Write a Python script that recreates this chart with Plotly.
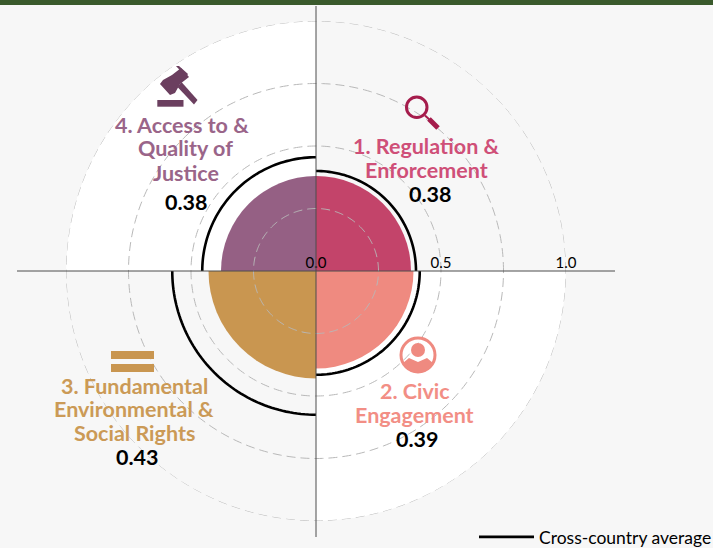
"""Governance dimensions radial chart: one quadrant per dimension."""
import numpy as np
import plotly.graph_objects as go

W, H = 713, 548
CX, CY, R1 = 316, 271, 250

DIMENSIONS = ["Regulation", "Access", "Rights", "Civic"]
THETA = [45, 135, 225, 315]
SCORES = [0.38, 0.38, 0.43, 0.39]
AVERAGES = [0.40, 0.455, 0.575, 0.415]
COLORS = ["#c3446a", "#956084", "#c99650", "#ef8a80"]
WHITE_QUADRANTS = [135, 315]
WHITE_R = [1, 1]
GRID_RINGS = [0.25, 0.5, 0.75, 1.0]
TICK_VALS = [0, 0.5, 1]
TICK_TEXT = ["0.0", "0.5", "1.0"]

LABELS = [
    ("1. Regulation &", 427, 146, "#cf4f78"),
    ("Enforcement", 427, 170, "#cf4f78"),
    ("4. Access to &", 182, 125, "#9a6589"),
    ("Quality of", 185, 148, "#9a6589"),
    ("Justice", 186, 173, "#9a6589"),
    ("3. Fundamental", 134, 386, "#cb9a56"),
    ("Environmental &", 134, 409, "#cb9a56"),
    ("Social Rights", 134, 433, "#cb9a56"),
    ("2. Civic", 415, 391, "#f28e85"),
    ("Engagement", 415, 415, "#f28e85"),
]
VALUE_LABELS = [("0.38", 430, 194), ("0.38", 186, 202), ("0.43", 137, 457), ("0.39", 417, 439)]


def px(x):
    return x / W


def py(y):
    return 1 - y / H


def poly(points):
    return "M" + " L".join(f"{px(x):.5f},{py(y):.5f}" for x, y in points) + " Z"


def pic_shape(kind, x0, y0, x1, y1, color, fill=True, width=0):
    return dict(
        type=kind, xref="paper", yref="paper",
        x0=px(x0), y0=py(y0), x1=px(x1), y1=py(y1),
        fillcolor=color if fill else "rgba(0,0,0,0)",
        line=dict(color=color, width=width), layer="above",
    )


def path_shape(points, color):
    return dict(type="path", xref="paper", yref="paper", path=poly(points),
                fillcolor=color, line=dict(width=0), layer="above")


fig = go.Figure()
fig.add_trace(go.Barpolar(r=WHITE_R, theta=WHITE_QUADRANTS, width=90, marker=dict(color="white", line=dict(width=0)),
                          showlegend=False, hoverinfo="skip"))
fig.add_trace(go.Barpolar(r=SCORES, theta=THETA, width=90, marker=dict(color=COLORS, line=dict(width=0)),
                          text=DIMENSIONS, showlegend=False))

ring_theta = np.linspace(0, 360, 361)
for ring in GRID_RINGS:
    fig.add_trace(go.Scatterpolar(r=[ring] * len(ring_theta), theta=ring_theta, mode="lines",
                                  line=dict(color="#b8b8b8", width=1, dash="9px,5px"),
                                  showlegend=False, hoverinfo="skip"))

# average arcs, one per quadrant
for i, (t, avg) in enumerate(zip(THETA, AVERAGES)):
    arc_theta = np.linspace(t - 45, t + 45, 61)
    fig.add_trace(go.Scatterpolar(r=[avg] * len(arc_theta), theta=arc_theta, mode="lines",
                                  line=dict(color="black", width=2.6),
                                  name="Cross-country average", showlegend=i == 0))

GAVEL = "#6b3f5f"
PERSON = "#ef8a80"
shapes = [
    pic_shape("rect", 0, 0, W, 5, "#3a5a2c"),
    # axes
    pic_shape("line", 17, CY, 615, CY, "#4d4d4d", width=1),
    pic_shape("line", CX, 6, CX, 537, "#4d4d4d", width=1),
    # magnifier
    pic_shape("circle", 406.5, 97, 427, 117.5, "#a51c4c", fill=False, width=3),
    pic_shape("line", 425, 115.5, 431, 121, "#a51c4c", width=2),
    pic_shape("line", 429, 119, 438, 128, "#a51c4c", width=5),
    # equals sign
    pic_shape("rect", 111, 351, 154, 359, "#c99650"),
    pic_shape("rect", 111, 364, 154, 372, "#c99650"),
    # gavel: head with end caps, handle, block
    path_shape([(172, 75), (181, 68), (189, 77), (180, 84), (175, 93), (170, 95), (160, 84), (163, 80)], GAVEL),
    path_shape([(176, 66), (179, 66), (188, 74), (186, 77)], GAVEL),
    path_shape([(181.5, 82), (197.5, 100), (194, 104.5), (177.5, 87)], GAVEL),
    pic_shape("rect", 157.3, 100, 183.5, 106.7, GAVEL),
    # person badge
    pic_shape("circle", 401, 338, 435, 372, PERSON, fill=False, width=3),
    pic_shape("circle", 411, 343, 425, 357, PERSON),
    path_shape([(403, 363), (409, 358), (418, 362), (427, 358), (433, 363), (429, 369), (424, 372),
                (418, 373), (412, 372), (407, 369)], PERSON),
]

annotations = []
for text, x, y, color in LABELS:
    annotations.append(dict(text=text, x=px(x), y=py(y), xref="paper", yref="paper", showarrow=False,
                            xanchor="center", yanchor="middle",
                            font=dict(family="Lato", size=21.5, color=color, weight=700)))
for text, x, y in VALUE_LABELS:
    annotations.append(dict(text=text, x=px(x), y=py(y), xref="paper", yref="paper", showarrow=False,
                            xanchor="center", yanchor="middle",
                            font=dict(family="Lato", size=21.5, color="black", weight=700)))

fig.update_layout(
    width=W, height=H,
    # autoexpand off, or the legend near the bottom edge shrinks the polar plot
    margin=dict(l=0, r=0, t=0, b=0, autoexpand=False),
    paper_bgcolor="#f7f7f7",
    font=dict(family="Lato", color="black"),
    polar=dict(
        domain=dict(x=[(CX - R1) / W, (CX + R1) / W], y=[1 - (CY + R1) / H, 1 - (CY - R1) / H]),
        bgcolor="rgba(0,0,0,0)",
        barmode="overlay",
        angularaxis=dict(visible=False),
        radialaxis=dict(range=[0, 1], tickvals=TICK_VALS, ticktext=TICK_TEXT, angle=0, side="counterclockwise",
                        showgrid=False, showline=False, ticks="", tickfont=dict(family="Lato", size=15, color="black")),
    ),
    legend=dict(x=474 / W, xanchor="left", y=1 - 537 / H, yanchor="middle", bgcolor="rgba(0,0,0,0)", itemwidth=55,
                font=dict(family="Lato", size=17.5, color="black")),
    shapes=shapes,
    annotations=annotations,
)

# drop the browser's default page margin so the figure sits at the window corner
fig.write_html("out.html", config={"displayModeBar": False}, post_script="document.body.style.margin='0';")
